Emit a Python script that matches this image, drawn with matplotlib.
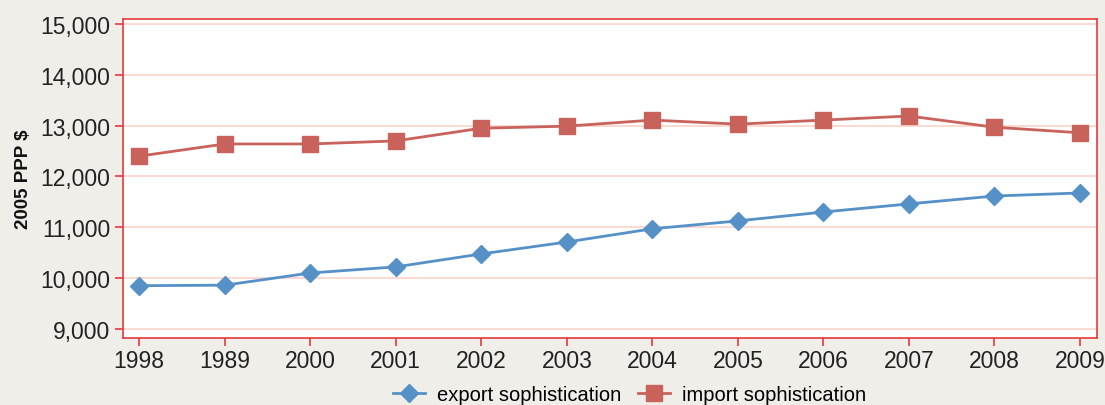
import matplotlib.pyplot as plt
from matplotlib.ticker import FuncFormatter

years = ['1998', '1989', '2000', '2001', '2002', '2003', '2004', '2005', '2006', '2007', '2008', '2009']
export_soph = [9850, 9860, 10100, 10220, 10475, 10710, 10970, 11125, 11300, 11460, 11615, 11675]
import_soph = [12400, 12640, 12640, 12700, 12950, 12990, 13110, 13030, 13110, 13190, 12970, 12860]

bg = '#EFEEE9'
axis_red = '#E8383D'
grid_col = '#F9D3C8'
blue = '#5590C6'
red = '#C8625A'

plt.rcParams['font.family'] = ['Liberation Sans', 'DejaVu Sans']

fig = plt.figure(figsize=(11.05, 4.06), dpi=100, facecolor=bg)
ax = fig.add_axes([123 / 1105, 1 - 339 / 406, (1097 - 123) / 1105, (339 - 20) / 406])
ax.set_facecolor('white')

x = list(range(len(years)))
ax.plot(x, export_soph, color=blue, lw=2, marker='D', ms=9, label='export sophistication', zorder=3)
ax.plot(x, import_soph, color=red, lw=2, marker='s', ms=11, label='import sophistication', zorder=3)

ax.set_xlim(-0.19, 11.2)
ax.set_ylim(8820, 15100)
ax.set_yticks(range(9000, 15001, 1000))
ax.yaxis.set_major_formatter(FuncFormatter(lambda v, p: f'{int(v):,}'))
ax.set_xticks(x)
ax.set_xticklabels(years)

ax.grid(axis='y', color=grid_col, lw=1.2, zorder=0)
for s in ax.spines.values():
    s.set_color(axis_red)
    s.set_linewidth(1.2)
ax.tick_params(colors=axis_red, labelcolor='#222222', labelsize=16.5, length=6, width=1.2)
ax.tick_params(axis='y', pad=3)
ax.tick_params(axis='x', pad=2)

ax.set_ylabel('2005 PPP $', fontsize=13.5, fontweight='bold', color='#111111', labelpad=6)

ax.legend(loc='center', bbox_to_anchor=(0.52, -0.178), ncol=2, frameon=False,
          fontsize=14.5, handlelength=1.6, columnspacing=0.8, handletextpad=0.6)

fig.savefig('out.png', dpi=100, facecolor=bg)
